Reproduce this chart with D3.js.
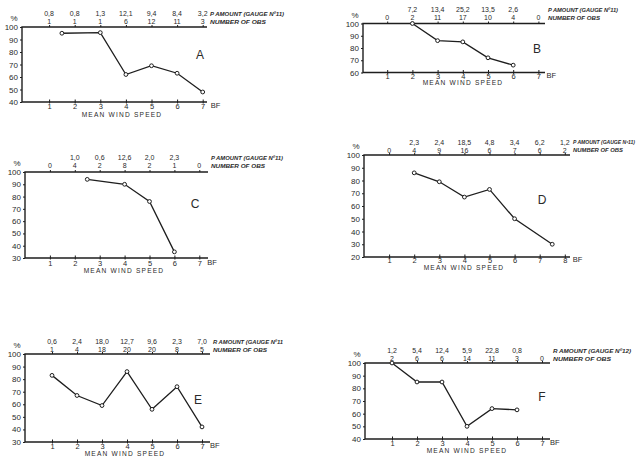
<!DOCTYPE html>
<html>
<head>
<meta charset="utf-8">
<script src="https://cdn.jsdelivr.net/npm/d3@7"></script>
<style>
  html, body { margin: 0; padding: 0; background: #fff; }
  svg { display: block; }
  text { font-family: "Liberation Sans", "DejaVu Sans", sans-serif; fill: #2a2a2a; }
  .tk text { font-size: 7.5px; }
  .yl text { font-size: 8px; }
  .legend { font-size: 5.8px; font-style: italic; font-weight: bold; }
  .row { font-size: 7px; }
  .title { font-size: 6.6px; letter-spacing: 1.2px; }
  .letter { font-size: 12px; }
</style>
</head>
<body>
<svg id="chart" width="640" height="456"></svg>
<script>
// wind speed (Beaufort) vs percentage, six stations A-F
const speedA = [1.5, 3, 4, 5, 6, 7];
const pctA   = [95, 95.5, 62, 69, 63, 48];
const rainA  = ["0,8", "0,8", "1,3", "12,1", "9,4", "8,4", "3,2"];
const obsA   = ["1", "1", "1", "6", "12", "11", "3"];

const speedB = [2, 3, 4, 5, 6];
const pctB   = [100, 86, 85, 72, 66];
const rainB  = ["", "7,2", "13,4", "25,2", "13,5", "2,6", ""];
const obsB   = ["0", "2", "11", "17", "10", "4", "0"];

const speedC = [2.5, 4, 5, 6];
const pctC   = [94, 90, 76, 35];
const rainC  = ["", "1,0", "0,6", "12,6", "2,0", "2,3", ""];
const obsC   = ["0", "4", "2", "8", "2", "1", "0"];

const speedD = [2, 3, 4, 5, 6, 7.5];
const pctD   = [86, 79, 67, 73, 50, 30];
const rainD  = ["", "2,3", "2,4", "18,5", "4,8", "3,4", "6,2", "1,2"];
const obsD   = ["0", "4", "9", "16", "6", "7", "6", "2"];

const speedE = [1, 2, 3, 4, 5, 6, 7];
const pctE   = [83, 67, 59, 86, 56, 74, 42];
const rainE  = ["0,6", "2,4", "18,0", "12,7", "9,6", "2,3", "7,0"];
const obsE   = ["1", "4", "18", "20", "20", "8", "5"];

const speedF = [1, 2, 3, 4, 5, 6];
const pctF   = [100, 85, 85, 50, 64, 63];
const rainF  = ["1,2", "5,4", "12,4", "5,9", "22,8", "0,8", ""];
const obsF   = ["2", "6", "6", "14", "11", "3", "0"];

// placement of each small panel on the page
const panels = [
  { name: "A", sx: speedA, sy: pctA, rain: rainA, obs: obsA, gauge: "P AMOUNT (GAUGE Nº11)",
    ax: 22, x0: 23.5, step: 25.6, xMax: 7, end: 207, top: 27, bot: 102, yMin: 40,
    rowY: 14, lblOff: 4.5, titleX: 122, titleY: 115, letter: [200, 56], legW: [74, 56], legFs: 5.8 },
  { name: "B", sx: speedB, sy: pctB, rain: rainB, obs: obsB, gauge: "P AMOUNT (GAUGE Nº11)",
    ax: 363, x0: 362, step: 25.2, xMax: 7, end: 545, top: 23.5, bot: 72.5, yMin: 60,
    rowY: 10, lblOff: 3.5, titleX: 463, titleY: 83.5, letter: [537, 50], legW: [70, 52], legFs: 5.8 },
  { name: "C", sx: speedC, sy: pctC, rain: rainC, obs: obsC, gauge: "P AMOUNT (GAUGE Nº11)",
    ax: 25, x0: 25, step: 24.9, xMax: 7, end: 208, top: 172, bot: 258, yMin: 30,
    rowY: 158, lblOff: 5, titleX: 124, titleY: 271, letter: [195, 205], legW: [72, 54], legFs: 5.8 },
  { name: "D", sx: speedD, sy: pctD, rain: rainD, obs: obsD, gauge: "P AMOUNT (GAUGE Nº11)",
    ax: 364, x0: 364, step: 25.1, xMax: 8, end: 570, top: 155, bot: 257, yMin: 20,
    rowY: 143, lblOff: 3, titleX: 464, titleY: 268, letter: [542, 201], legW: [62, 50], legFs: 5 },
  { name: "E", sx: speedE, sy: pctE, rain: rainE, obs: obsE, gauge: "R AMOUNT (GAUGE Nº11",
    ax: 25, x0: 27, step: 25, xMax: 7, end: 210, top: 354, bot: 442, yMin: 30,
    rowY: 342, lblOff: 4, titleX: 125, titleY: 454, letter: [198, 401], legW: [70, 54], legFs: 5.8 },
  { name: "F", sx: speedF, sy: pctF, rain: rainF, obs: obsF, gauge: "R AMOUNT (GAUGE Nº12)",
    ax: 365, x0: 367, step: 25, xMax: 7, end: 550, top: 363, bot: 439, yMin: 40,
    rowY: 351, lblOff: 4.5, titleX: 467, titleY: 451, letter: [542, 398], legW: [78, 58], legFs: 5.8 }
];

const ink = "#1e1e1e";
const svg = d3.select("#chart");

function drawPanel(p) {
  const g = svg.append("g");
  const x = d3.scaleLinear().domain([0, p.xMax]).range([p.x0, p.x0 + p.xMax * p.step]);
  const y = d3.scaleLinear().domain([p.yMin, 100]).range([p.bot, p.top]);
  const ticks = d3.range(1, p.xMax + 1);

  // frame: left, bottom and top lines
  const frame = d3.line();
  g.append("path")
    .attr("d", frame([[p.end, p.top], [p.ax, p.top], [p.ax, p.bot], [p.end, p.bot]]))
    .attr("fill", "none").attr("stroke", ink).attr("stroke-width", 1.4);

  // bottom axis with Beaufort numbers
  const bottom = g.append("g").attr("class", "tk")
    .attr("transform", "translate(0," + p.bot + ")")
    .call(d3.axisBottom(x).tickValues(ticks).tickFormat(d3.format("d"))
      .tickSizeInner(-2.5).tickSizeOuter(0));
  bottom.select(".domain").remove();
  bottom.selectAll("line").attr("stroke", ink).attr("y1", 1.5);
  bottom.selectAll("text").attr("fill", "#2a2a2a")
    .attr("y", p.lblOff).attr("dy", "0.35em");

  // top axis ticks
  const topAx = g.append("g")
    .attr("transform", "translate(0," + p.top + ")")
    .call(d3.axisTop(x).tickValues(ticks).tickFormat("").tickSizeInner(2).tickSizeOuter(0));
  topAx.select(".domain").remove();
  topAx.selectAll("line").attr("stroke", ink);

  // left axis, percentage
  const yl = g.append("g").attr("class", "yl")
    .attr("transform", "translate(" + p.ax + ",0)")
    .call(d3.axisLeft(y).tickValues(d3.range(p.yMin, 101, 10)).tickFormat(d3.format("d"))
      .tickSizeInner(2).tickSizeOuter(0).tickPadding(2));
  yl.select(".domain").remove();
  yl.selectAll("line").attr("stroke", ink);
  yl.selectAll("text").attr("fill", "#2a2a2a");

  g.append("text").attr("x", p.ax - 8).attr("y", p.top - 6)
    .attr("text-anchor", "middle").style("font-size", "8px").text("%");

  // rain amount and number of obs above the plot
  g.selectAll(".rain").data(p.rain).join("text").attr("class", "row")
    .attr("x", (d, i) => x(i + 1)).attr("y", p.rowY)
    .attr("text-anchor", "middle").attr("dominant-baseline", "middle").text(d => d);
  g.selectAll(".obs").data(p.obs).join("text").attr("class", "row")
    .attr("x", (d, i) => x(i + 1)).attr("y", p.rowY + 8)
    .attr("text-anchor", "middle").attr("dominant-baseline", "middle").text(d => d);
  g.append("text").attr("class", "legend").attr("x", p.end + 3).attr("y", p.rowY)
    .attr("dominant-baseline", "middle").style("font-size", p.legFs + "px")
    .attr("textLength", p.legW[0]).attr("lengthAdjust", "spacingAndGlyphs").text(p.gauge);
  g.append("text").attr("class", "legend").attr("x", p.end + 3).attr("y", p.rowY + 8)
    .attr("dominant-baseline", "middle").style("font-size", p.legFs + "px")
    .attr("textLength", p.legW[1]).attr("lengthAdjust", "spacingAndGlyphs").text("NUMBER OF OBS");

  g.append("text").attr("x", x(p.xMax) + 8).attr("y", p.bot + p.lblOff)
    .attr("dominant-baseline", "middle").style("font-size", "7.5px")
    .text("BF");
  g.append("text").attr("class", "title").attr("x", p.titleX).attr("y", p.titleY)
    .attr("text-anchor", "middle").attr("dominant-baseline", "middle").text("MEAN WIND SPEED");
  g.append("text").attr("class", "letter").attr("x", p.letter[0]).attr("y", p.letter[1])
    .attr("text-anchor", "middle").attr("dominant-baseline", "middle").text(p.name);

  // the series
  const pts = p.sx.map((s, i) => [s, p.sy[i]]);
  g.append("path")
    .attr("d", d3.line().x(d => x(d[0])).y(d => y(d[1]))(pts))
    .attr("fill", "none").attr("stroke", ink).attr("stroke-width", 1.3);
  g.selectAll("circle").data(pts).join("circle")
    .attr("cx", d => x(d[0])).attr("cy", d => y(d[1])).attr("r", 1.9)
    .attr("fill", "#fff").attr("stroke", ink).attr("stroke-width", 1);
}

panels.forEach(drawPanel);
</script>
</body>
</html>
